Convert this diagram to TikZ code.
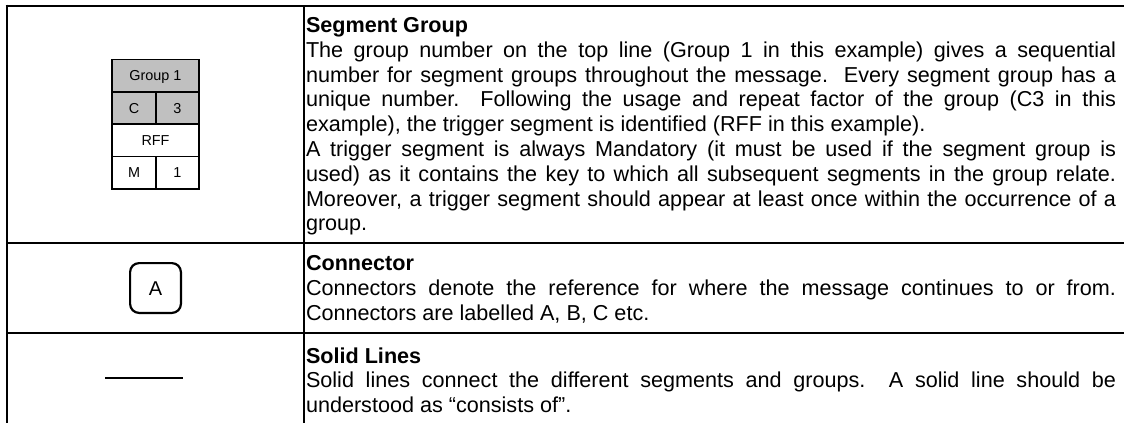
\documentclass[tikz,border=0pt]{standalone}
\usepackage{fontspec}
\setmainfont{Liberation Sans}
\definecolor{segfill}{RGB}{192,192,192}
\newcommand\JustLine[1]{\makebox[\linewidth][s]{#1}\par}
\newcommand\PlainLine[1]{{#1}\par}
\newcommand\HeadLine[1]{{\bfseries #1}\par}
\newcommand\BodyFont{\fontsize{21.6}{24.8}\selectfont}
\tikzset{
  rule/.style={line width=2pt},
  segcell/.style={draw, line width=1.2pt, inner sep=0pt, outer sep=0pt,
    font=\fontsize{14.4}{17}\selectfont, text height=10.3pt, text depth=0pt},
  grey/.style={fill=segfill},
  conbox/.style={draw, line width=2.2pt, rounded corners=9pt, inner sep=0pt,
    minimum width=50.8pt, minimum height=49.8pt,
    font=\fontsize{20}{24}\selectfont, text height=14.3pt, text depth=0pt},
  desc/.style={anchor=base west, inner sep=0pt, outer sep=0pt},
}
\begin{document}
\begin{tikzpicture}[x=1pt,y=-1pt]
\useasboundingbox (0,0) rectangle (1124,423);
% table rules
\coordinate (tl) at (5.5,5.5);
\coordinate (tr) at (1124,5.5);
\coordinate (bl) at (6.5,423);
\coordinate (vt) at (303.5,5.5);
\coordinate (vb) at (303.5,423);
\coordinate (r1l) at (6.5,243);
\coordinate (r1r) at (1124,243);
\coordinate (r2l) at (6.5,333);
\coordinate (r2r) at (1124,333);
\draw[rule] (tl) -- (tr);
\draw[rule] (6.5,4.5) -- (bl);
\draw[rule] (vt) -- (vb);
\draw[rule] (r1l) -- (r1r);
\draw[rule] (r2l) -- (r2r);

% segment group symbol
\node[segcell, grey, minimum width=87pt, minimum height=32.5pt] (g1) at (155.5,75.75) {Group 1};
\node[segcell, grey, minimum width=44pt, minimum height=32pt] (gc) at (134,108) {C};
\node[segcell, grey, minimum width=43pt, minimum height=32pt] (g3) at (177.5,108) {3};
\node[segcell, minimum width=87pt, minimum height=32.5pt] (rff) at (155.5,140.25) {RFF};
\node[segcell, minimum width=44pt, minimum height=32.5pt] (gm) at (134,172.75) {M};
\node[segcell, minimum width=43pt, minimum height=32.5pt] (gone) at (177.5,172.75) {1};

% connector symbol
\node[conbox] (conn) at (155.5,288) {A};

% solid line symbol
\coordinate (sl1) at (105,378);
\coordinate (sl2) at (183,378);
\draw[line width=1.2pt] (sl1) -- (sl2);

% descriptions
\node[desc] (sgtext) at (306,32.5) {\parbox[t]{810pt}{\BodyFont
\HeadLine{Segment Group}
\JustLine{The group number on the top line (Group 1 in this example) gives a sequential}
\JustLine{number for segment groups throughout the message.\ \ Every segment group has a}
\JustLine{unique number.\ \ Following the usage and repeat factor of the group (C3 in this}
\PlainLine{example), the trigger segment is identified (RFF in this example).}
\JustLine{A trigger segment is always Mandatory (it must be used if the segment group is}
\JustLine{used) as it contains the key to which all subsequent segments in the group relate.}
\JustLine{Moreover, a trigger segment should appear at least once within the occurrence of a}
\PlainLine{group.}}};

\node[desc] (context) at (306,270.5) {\parbox[t]{810pt}{\BodyFont
\HeadLine{Connector}
\JustLine{Connectors denote the reference for where the message continues to or from.}
\PlainLine{Connectors are labelled A, B, C etc.}}};

\node[desc] (sltext) at (306,363) {\parbox[t]{810pt}{\BodyFont
\HeadLine{Solid Lines}
\JustLine{Solid lines connect the different segments and groups.\ \ A solid line should be}
\PlainLine{understood as “consists of”.}}};
\end{tikzpicture}
\end{document}
